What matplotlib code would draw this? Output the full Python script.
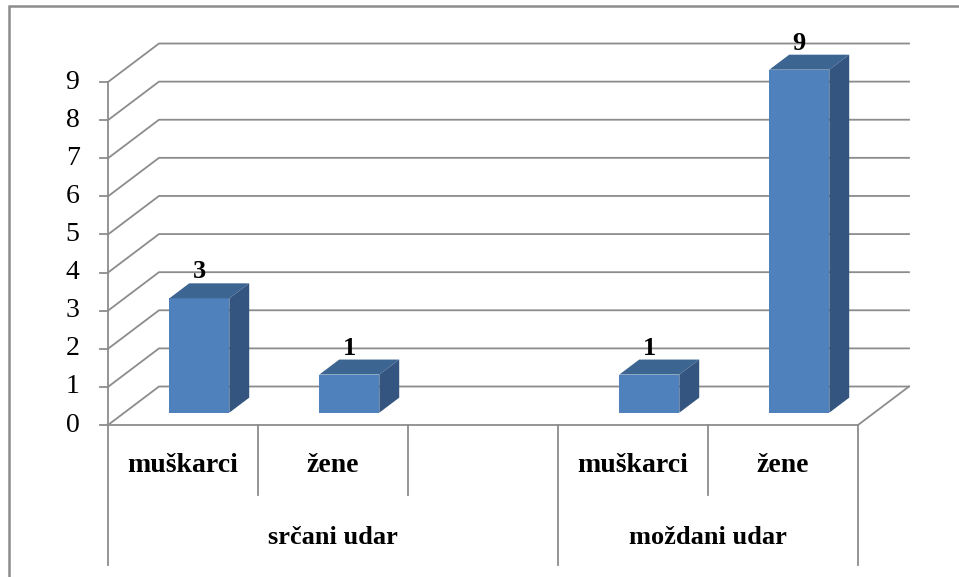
import matplotlib.pyplot as plt
from matplotlib.patches import Polygon, Rectangle

categories = ['muškarci', 'žene', '', 'muškarci', 'žene']
groups = ['srčani udar', 'moždani udar']
group_spans = [(0, 3), (3, 5)]
values = [3, 1, None, 1, 9]
yticks = list(range(0, 10))

plt.rcParams['font.family'] = ['Liberation Serif', 'DejaVu Serif']

W, H = 959, 577
fig = plt.figure(figsize=(W / 100, H / 100), dpi=100)
ax = fig.add_axes([108 / W, 1 - 425 / H, 750 / W, 343 / H])
ax.set_xlim(0, len(categories))
ax.set_ylim(0, max(yticks))
ax.axis('off')

grid_c = '#8c8c8c'
lw = 1.3
DX, DY = 0.34, 1.01   # depth of the 3d box in data units
n = len(categories)

# back wall + left side wall gridlines
for v in yticks:
    ax.plot([0, DX, n + DX], [v, v + DY, v + DY], color=grid_c, lw=lw,
            clip_on=False, zorder=1, solid_joinstyle='miter')

# floor front and right edge
ax.plot([0, n, n + DX], [0, 0, DY], color=grid_c, lw=lw, clip_on=False, zorder=1)

# value axis with ticks
ax.plot([0, 0], [max(yticks), -3.67], color=grid_c, lw=lw, clip_on=False, zorder=1)
for v in yticks:
    ax.plot([-0.055, 0], [v, v], color=grid_c, lw=lw, clip_on=False, zorder=1)
    ax.text(-0.19, v, str(v), ha='right', va='center', fontsize=20, color='black')

# category dividers
for x in range(1, n + 1):
    long_line = any(x == e for s, e in group_spans)
    ax.plot([x, x], [0, -3.67 if long_line else -1.84], color=grid_c, lw=lw,
            clip_on=False, zorder=1)

for i, c in enumerate(categories):
    ax.text(i + 0.5, -1.05, c, ha='center', va='center', fontsize=20,
            fontweight='bold')
for g, (s, e) in zip(groups, group_spans):
    ax.text((s + e) / 2, -2.94, g, ha='center', va='center', fontsize=19,
            fontweight='bold')

# 3d bars
front_c, top_c, side_c = '#4f81bd', '#3c6592', '#33557f'
t1, t2 = 0.32, 0.71
bw = 0.4
ddx, ddy = (t2 - t1) * DX, (t2 - t1) * DY
for i, v in enumerate(values):
    if v is None:
        continue
    x0 = i + 0.5 - bw / 2 + t1 * DX
    y0 = t1 * DY
    front = Polygon([(x0, y0), (x0 + bw, y0), (x0 + bw, y0 + v), (x0, y0 + v)],
                    closed=True, facecolor=front_c, edgecolor='none', zorder=3,
                    clip_on=False)
    top = Polygon([(x0, y0 + v), (x0 + bw, y0 + v), (x0 + bw + ddx, y0 + v + ddy),
                   (x0 + ddx, y0 + v + ddy)], closed=True, facecolor=top_c,
                  edgecolor='none', zorder=3, clip_on=False)
    side = Polygon([(x0 + bw, y0), (x0 + bw + ddx, y0 + ddy),
                    (x0 + bw + ddx, y0 + v + ddy), (x0 + bw, y0 + v)], closed=True,
                   facecolor=side_c, edgecolor='none', zorder=3, clip_on=False)
    for p in (front, top, side):
        ax.add_patch(p)
    ax.text(x0 + bw / 2, y0 + v + ddy + 0.3, str(v), ha='center', va='center',
            fontsize=19, fontweight='bold', zorder=4)

# chart frame (right and bottom edges fall outside the picture)
fig.patches.append(Rectangle((9 / W, -0.05), 1.1, 1 - 6 / H + 0.05,
                             transform=fig.transFigure, fill=False,
                             edgecolor=grid_c, lw=1.8))

fig.savefig('out.png', dpi=100)
